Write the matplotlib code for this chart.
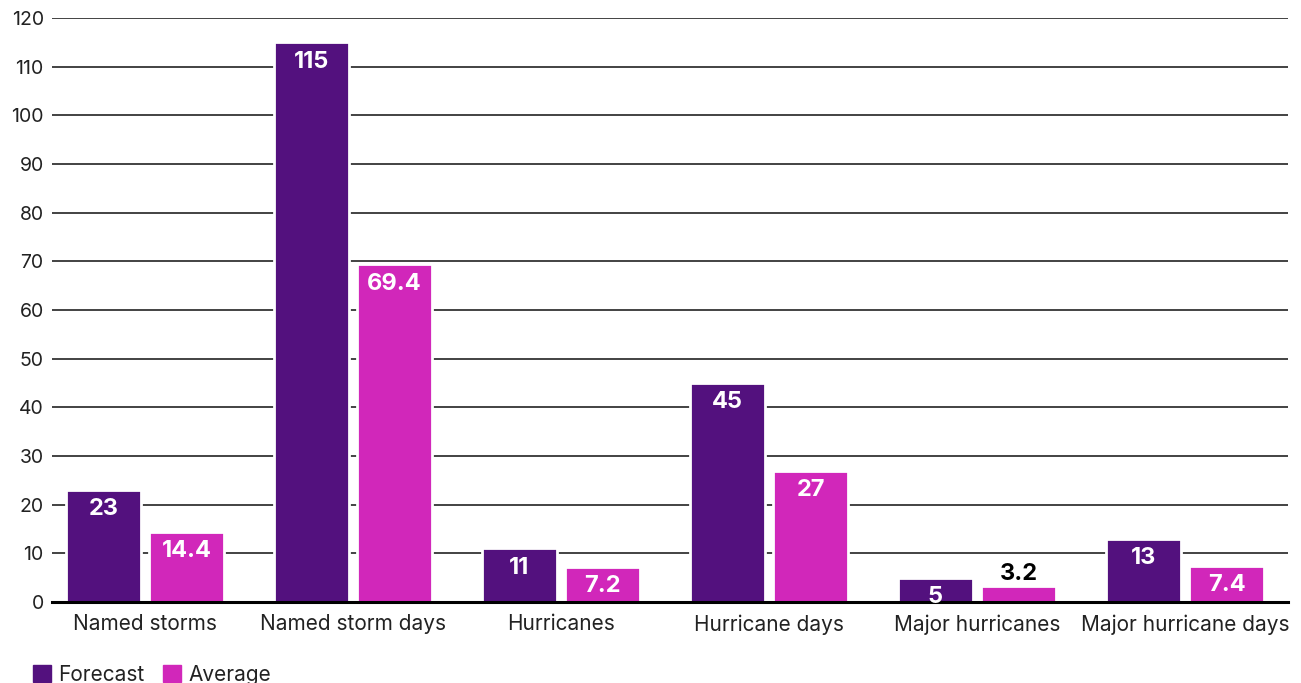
import matplotlib
matplotlib.use("Agg")
import matplotlib.pyplot as plt
import numpy as np
from matplotlib.patches import Patch

categories = ["Named storms", "Named storm days", "Hurricanes", "Hurricane days",
              "Major hurricanes", "Major hurricane days"]
forecast = [23, 115, 11, 45, 5, 13]
average = [14.4, 69.4, 7.2, 27, 3.2, 7.4]
forecast_labels = ["23", "115", "11", "45", "5", "13"]
average_labels = ["14.4", "69.4", "7.2", "27", "3.2", "7.4"]
yticks = list(range(0, 121, 10))

c_fore = "#53117E"
c_avg = "#D127BA"

plt.rcParams['font.family'] = ['Inter', 'DejaVu Sans']

fig = plt.figure(figsize=(13.01, 6.83), dpi=100)
ax = fig.add_axes([0.040, 0.1186, 0.950, 0.855])

x = np.arange(len(categories))
w = 0.36
off = 0.2
b1 = ax.bar(x - off, forecast, w, color=c_fore, edgecolor="white", linewidth=2, zorder=3)
b2 = ax.bar(x + off, average, w, color=c_avg, edgecolor="white", linewidth=2, zorder=3)

ax.set_ylim(0, 120)
ax.set_xlim(-0.447, 5.495)
ax.set_yticks(yticks)
ax.set_yticklabels([str(t) for t in yticks], fontsize=14, color="#222222")
ax.tick_params(axis='y', length=0, pad=6)
ax.tick_params(axis='x', length=0, pad=9)
ax.set_xticks(x)
ax.set_xticklabels(categories, fontsize=15, color="#222222")
ax.yaxis.grid(True, color="#222222", linewidth=1.2, zorder=0)
ax.set_axisbelow(True)
for s in ["top", "right", "left"]:
    ax.spines[s].set_visible(False)
ax.spines["bottom"].set_linewidth(2.2)
ax.spines["bottom"].set_color("black")
ax.spines["bottom"].set_zorder(4)

def label(bars, labels, vals):
    for b, lab, v in zip(bars, labels, vals):
        cx = b.get_x() + b.get_width() / 2
        if v < 4:
            ax.annotate(lab, (cx, v), xytext=(0, 1), textcoords="offset points",
                        ha="center", va="bottom", fontsize=17, fontweight="bold", color="black", zorder=5)
        else:
            ax.annotate(lab, (cx, v), xytext=(0, -6), textcoords="offset points",
                        ha="center", va="top", fontsize=17, fontweight="bold", color="white", zorder=5)

label(b1, forecast_labels, forecast)
label(b2, average_labels, average)

handles = [Patch(color=c_fore, label="Forecast"), Patch(color=c_avg, label="Average")]
fig.legend(handles=handles, loc="lower left", bbox_to_anchor=(0.011, -0.03), ncol=2,
           frameon=False, fontsize=15, handlelength=0.85, handleheight=0.85,
           handletextpad=0.35, columnspacing=0.9, labelcolor="#222222")

fig.savefig("out.png", dpi=100)
